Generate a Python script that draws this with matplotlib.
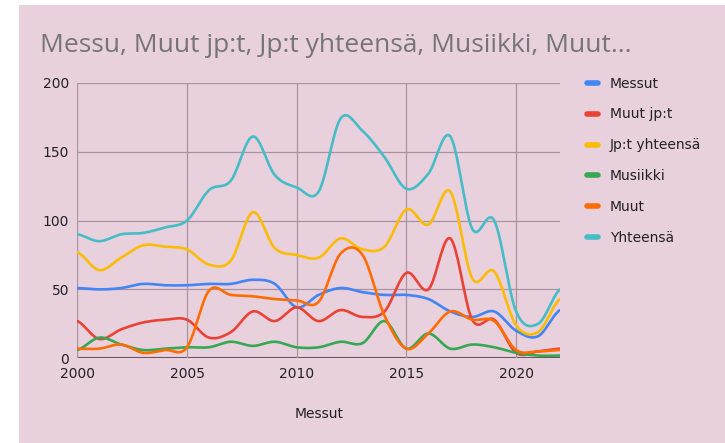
# Smoothed line chart of the six series, 2000-2022
import numpy as np
import matplotlib.pyplot as plt

years = list(range(2000, 2023))

messut = [51, 50, 51, 54, 53, 53, 54, 54, 57, 54, 37, 46, 51, 48, 46, 46, 43, 34, 30, 34, 20, 16, 35]
muut_jpt = [27, 14, 21, 26, 28, 28, 15, 19, 34, 27, 37, 27, 35, 30, 34, 62, 50, 87, 28, 28, 4, 5, 7]
jpt_yhteensa = [77, 64, 73, 82, 81, 79, 68, 71, 106, 80, 75, 73, 87, 79, 81, 108, 97, 121, 58, 63, 24, 19, 43]
musiikki = [6, 15, 10, 6, 7, 8, 8, 12, 9, 12, 8, 8, 12, 11, 27, 7, 18, 7, 10, 8, 4, 2, 2]
muut = [7, 7, 10, 4, 6, 8, 49, 46, 45, 43, 42, 41, 76, 75, 31, 7, 18, 34, 28, 27, 6, 5, 6]
yhteensa = [90, 85, 90, 91, 95, 100, 122, 129, 161, 133, 124, 121, 174, 165, 146, 123, 134, 161, 94, 100, 34, 25, 50]

labels = ["Messut", "Muut jp:t", "Jp:t yhteensä", "Musiikki", "Muut", "Yhteensä"]
series = [messut, muut_jpt, jpt_yhteensa, musiikki, muut, yhteensa]
colors = ["#4285f4", "#ea4335", "#fbbc04", "#34a853", "#ff6d01", "#46bdc6"]

bg = "#e9d0dd"


def smooth(x, y, steps=20):
    # catmull-rom curve through the data points (drawing only)
    x = np.asarray(x, float)
    y = np.asarray(y, float)
    px = np.concatenate([[2 * x[0] - x[1]], x, [2 * x[-1] - x[-2]]])
    py = np.concatenate([[y[0]], y, [y[-1]]])
    xs, ys = [], []
    t = np.linspace(0, 1, steps, endpoint=False)
    for i in range(1, len(px) - 2):
        for p, out in ((px, xs), (py, ys)):
            p0, p1, p2, p3 = p[i - 1], p[i], p[i + 1], p[i + 2]
            out.extend(0.5 * ((2 * p1) + (-p0 + p2) * t
                              + (2 * p0 - 5 * p1 + 4 * p2 - p3) * t ** 2
                              + (-p0 + 3 * p1 - 3 * p2 + p3) * t ** 3))
    xs.append(x[-1])
    ys.append(y[-1])
    return xs, ys


fig = plt.figure(figsize=(7.25, 4.43), dpi=100, facecolor="white")
fig.patches.append(plt.Rectangle((19 / 725, 0), 1, 438 / 443, transform=fig.transFigure,
                                 facecolor=bg, edgecolor="none", zorder=-10))

ax = fig.add_axes([77.3 / 725, (443 - 358.3) / 443, (560 - 77.3) / 725, (358.3 - 82.7) / 443])
ax.set_facecolor(bg)

for vals, lab, col in zip(series, labels, colors):
    sx, sy = smooth(years, vals)
    ax.plot(sx, sy, color=col, lw=1.9, label=lab, solid_capstyle="round")

ax.set_xlim(2000, 2022)
ax.set_ylim(0, 200)
ax.set_xticks([2000, 2005, 2010, 2015, 2020])
ax.set_yticks([0, 50, 100, 150, 200])
ax.grid(True, color="#a8949f", lw=0.9)
ax.axhline(0, color="#5e4b57", lw=2.2, zorder=1)
for s in ax.spines.values():
    s.set_visible(False)
ax.tick_params(length=0, labelsize=10, labelcolor="#222222", pad=6)

ax.set_xlabel("Messut", fontsize=10, color="#222222", labelpad=19)

fig.text(40 / 725, 1 - 46 / 443, "Messu, Muut jp:t, Jp:t yhteensä, Musiikki, Muut...",
         fontsize=19, color="#757575", family="Open Sans", va="center", ha="left")

leg = fig.legend(loc="upper left", bbox_to_anchor=(574 / 725, 1 - 64 / 443), frameon=False,
                 fontsize=10, handlelength=0.8, handletextpad=0.9, labelspacing=1.22,
                 labelcolor="#222222")
for h in leg.get_lines():
    h.set_linewidth(4)

fig.savefig("out.png", dpi=100, facecolor=fig.get_facecolor())
